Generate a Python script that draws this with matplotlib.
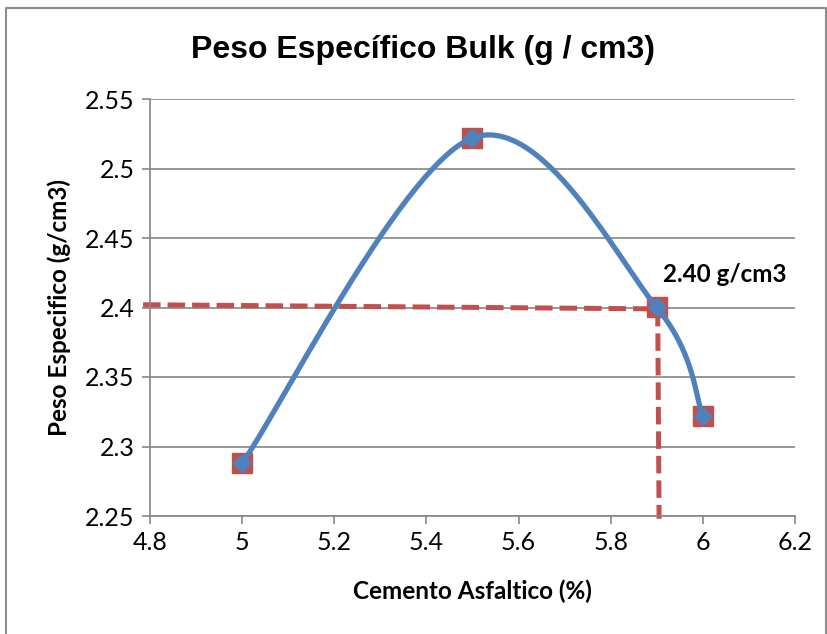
import matplotlib
matplotlib.use("Agg")
import matplotlib.pyplot as plt
import numpy as np
from matplotlib.lines import Line2D

# data
asfalto = [5.0, 5.5, 5.9, 6.0]
peso = [2.288, 2.522, 2.400, 2.322]

# design lines (dashed red)
h_line_x = [4.785, 5.9]
h_line_y = [2.402, 2.399]
v_line_x = [5.902, 5.905]
v_line_y = [2.399, 2.248]

etiqueta = "2.40 g/cm3"
etiqueta_pos = (5.913, 2.424)

BLUE = "#4F81BD"
RED = "#C0504D"
GRID = "#868686"


def excel_smooth(xs, ys, n=60):
    # bezier smoothing like the one excel uses for "smoothed line"
    pts = np.column_stack([xs, ys]).astype(float)
    ext = np.vstack([pts[0], pts, pts[-1]])
    out = []
    t = np.linspace(0, 1, n)[:, None]
    for i in range(len(pts) - 1):
        p0, p3 = ext[i + 1], ext[i + 2]
        p1 = p0 + (ext[i + 2] - ext[i]) / 6.0
        p2 = p3 - (ext[i + 3] - ext[i + 1]) / 6.0
        seg = ((1 - t) ** 3) * p0 + 3 * ((1 - t) ** 2) * t * p1 \
            + 3 * (1 - t) * t ** 2 * p2 + t ** 3 * p3
        out.append(seg)
    curve = np.vstack(out)
    return curve[:, 0], curve[:, 1]


fig = plt.figure(figsize=(8.27, 6.34), dpi=100)
# chart area border (only left/top/right visible in the crop)
fig.lines.append(Line2D([5.5 / 827, 5.5 / 827, 825.5 / 827, 825.5 / 827],
                        [0, 1 - 7.5 / 634, 1 - 7.5 / 634, 0],
                        transform=fig.transFigure, color="#8c8c8c", lw=1.5))

ax = fig.add_axes([150 / 827, 1 - 516 / 634, 645 / 827, 417 / 634])

ax.set_xlim(4.8, 6.2)
ax.set_ylim(2.25, 2.55)
ax.set_xticks(np.arange(4.8, 6.21, 0.2))
ax.set_yticks(np.arange(2.25, 2.551, 0.05))
ax.set_xticklabels(["4.8", "5", "5.2", "5.4", "5.6", "5.8", "6", "6.2"])
ax.set_yticklabels(["2.25", "2.3", "2.35", "2.4", "2.45", "2.5", "2.55"])

ax.yaxis.grid(True, color=GRID, linewidth=1.2)
ax.set_axisbelow(True)
for s in ["top", "right"]:
    ax.spines[s].set_visible(False)
for s in ["left", "bottom"]:
    ax.spines[s].set_color(GRID)
    ax.spines[s].set_linewidth(1.2)
ax.tick_params(direction="out", length=6, width=1.2, color=GRID,
               labelsize=18, pad=5)
for lab in ax.get_xticklabels() + ax.get_yticklabels():
    lab.set_fontfamily("Lato")

# red dashed design lines
ax.plot(h_line_x, h_line_y, color=RED, lw=3.6, dashes=(3.5, 1.4),
        clip_on=False, zorder=2)
ax.plot(v_line_x, v_line_y, color=RED, lw=3.6, dashes=(3.5, 1.4),
        clip_on=False, zorder=2)

# red square markers
ax.plot(asfalto, peso, linestyle="none", marker="s", markersize=14,
        color=RED, zorder=3)

# smoothed blue line with diamonds
sx, sy = excel_smooth(asfalto, peso)
ax.plot(sx, sy, color=BLUE, lw=3.8, zorder=4, solid_capstyle="round")
ax.plot(asfalto, peso, linestyle="none", marker="D", markersize=9.5,
        color=BLUE, zorder=5)

ax.text(etiqueta_pos[0], etiqueta_pos[1], etiqueta, fontsize=17.5,
        fontweight="bold", fontfamily="Lato", va="center", ha="left")

ax.set_xlabel("Cemento Asfaltico (%)", fontsize=17.5, fontweight="bold",
              fontfamily="Lato", labelpad=18)
ax.set_ylabel("Peso Especifico (g/cm3)", fontsize=17.5, fontweight="bold",
              fontfamily="Lato", labelpad=10)

fig.text(423 / 827, 1 - 50 / 634, "Peso Específico Bulk (g / cm3)",
         fontsize=23, fontweight="bold", fontfamily="Liberation Sans",
         ha="center", va="center")

fig.savefig("out.png", dpi=100)
